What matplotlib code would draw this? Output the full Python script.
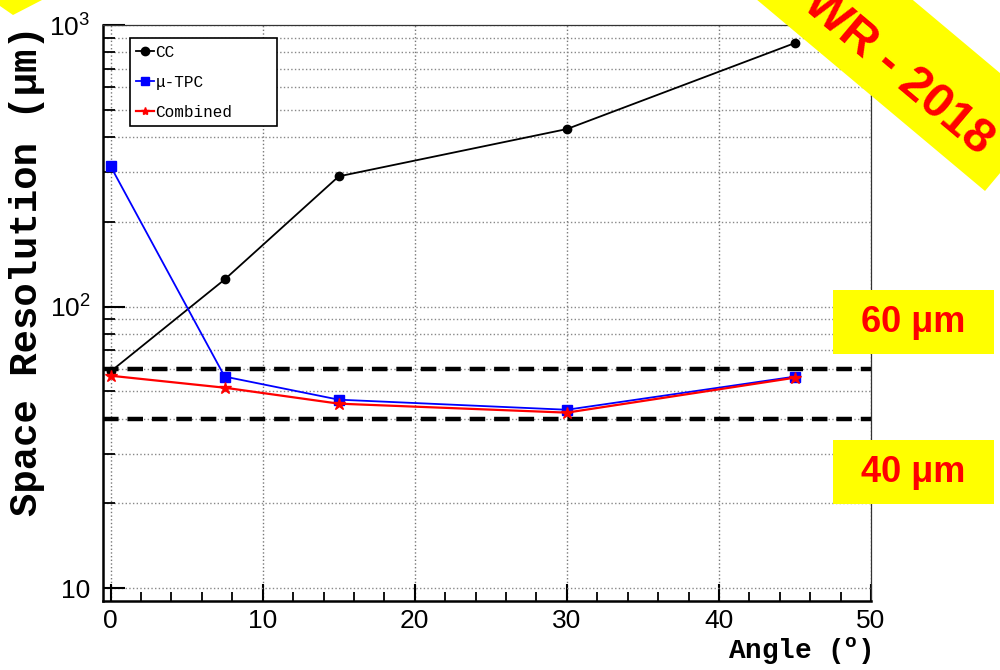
import numpy as np
import matplotlib
matplotlib.use("Agg")
import matplotlib.pyplot as plt
from matplotlib.patches import Polygon, Rectangle
from matplotlib.ticker import FixedLocator, NullFormatter

plt.rcParams["font.family"] = ["Liberation Sans", "DejaVu Sans"]
plt.rcParams["mathtext.default"] = "regular"

# resolution vs track angle
angles = [0, 7.5, 15, 30, 45]
res_cc = [58.8, 124.8, 290, 427, 863]
res_utpc = [315, 56.4, 46.7, 43.0, 56.4]
res_comb = [56.8, 51.5, 45.2, 42.0, 55.9]
ref_levels = [60, 40]
ref_labels = ["60 \u03bcm", "40 \u03bcm"]

W, H = 1000, 670
fig = plt.figure(figsize=(10, 6.7), dpi=100)
ax = fig.add_axes([103 / W, 1 - 601 / H, 768 / W, 576 / H])

ax.set_yscale("log")
ax.set_xlim(-0.5, 50)
ax.set_ylim(9, 1000)

ax.plot(angles, res_cc, color="black", lw=1.3, marker="o", ms=6, label="CC")
ax.plot(angles, res_utpc, color="blue", lw=1.3, marker="s", ms=7,
        label="\u03bc-TPC")
ax.plot(angles, res_comb, color="red", lw=1.6, marker="*", ms=9,
        label="Combined")

for lvl in ref_levels:
    ax.axhline(lvl, color="black", lw=3.2, ls=(0, (3.5, 2)), zorder=1)

# ticks and grid
ax.xaxis.set_major_locator(FixedLocator([0, 10, 20, 30, 40, 50]))
ax.xaxis.set_minor_locator(FixedLocator(np.arange(0, 50, 2)))
ax.yaxis.set_major_locator(FixedLocator([10, 100, 1000]))
minors = [m * d for d in (10, 100) for m in range(2, 10)]
ax.yaxis.set_minor_locator(FixedLocator(minors))
ax.yaxis.set_minor_formatter(NullFormatter())
ax.set_yticklabels(["10", "10$^{2}$", "10$^{3}$"])
ax.set_xticklabels(["0", "10", "20", "30", "40", "50"])

ax.tick_params(axis="both", which="both", direction="in", top=False,
               right=False, labelsize=19, color="black")
ax.tick_params(axis="y", which="major", length=16, width=1.5, pad=9)
ax.tick_params(axis="y", which="minor", length=8.5, width=1.3)
ax.tick_params(axis="x", which="major", length=12, width=1.5, pad=6)
ax.tick_params(axis="x", which="minor", length=6.5, width=1.3)

ax.grid(True, which="major", axis="x", color="#777777", ls=":", lw=1)
ax.grid(True, which="both", axis="y", color="#888888", ls=":", lw=1)
ax.set_axisbelow(True)

for side in ("left", "bottom"):
    ax.spines[side].set_linewidth(1.8)
for side in ("top", "right"):
    ax.spines[side].set_linewidth(0.9)
    ax.spines[side].set_color("#333333")

mono = ["Liberation Mono", "DejaVu Sans Mono"]
# axis titles, ROOT style: flush with the top / right end of the frame
fig.text(27 / W, 1 - 25 / H, "Space Resolution (\u03bcm)", family=mono,
         weight="bold", fontsize=28, rotation=90, rotation_mode="anchor",
         ha="right", va="center")
ax.set_xlabel("Angle ($^{o}$)", family=mono, weight="bold", fontsize=20,
              ha="right", va="top")
ax.xaxis.set_label_coords(1.0, -0.059)

leg = ax.legend(loc="upper left", bbox_to_anchor=(0.035, 0.877, 0.191, 0.1),
                mode="expand", borderaxespad=0,
                prop={"family": mono, "size": 11.5}, handlelength=1.1,
                handletextpad=0.1, borderpad=0.4, labelspacing=0.95,
                fancybox=False, edgecolor="black", framealpha=1)
leg.get_frame().set_linewidth(1.2)
for h in leg.legend_handles:
    h.set_markersize(6)


def px(pts):
    return [(x / W, 1 - y / H) for x, y in pts]


# yellow value boxes on the right
for lbl, ytop in zip(ref_labels, (290, 440)):
    fig.patches.append(Rectangle((833 / W, 1 - (ytop + 64) / H), 161 / W,
                                 64 / H, transform=fig.transFigure,
                                 facecolor="yellow", edgecolor="none"))
    fig.text(913 / W, 1 - (ytop + 33) / H, lbl, color="red", weight="bold",
             fontsize=26, ha="center", va="center")

# diagonal banner in the corner
n = np.array([0.6423, -0.7666])
p0 = np.array([725.0, -27.0])
p1 = np.array([985.0, 191.0])
band = [p0, p1, p1 + 100 * n, p0 + 100 * n]
fig.patches.append(Polygon(px(band), closed=True, transform=fig.transFigure,
                           facecolor="yellow", edgecolor="none"))
fig.text(898 / W, 1 - 72 / H, "WR - 2018", color="red", weight="bold",
         fontsize=35, rotation=-40, rotation_mode="anchor",
         ha="center", va="center")
fig.patches.append(Polygon(px([(0, 0), (42, 0), (13, 15), (0, 6)]),
                           closed=True, transform=fig.transFigure,
                           facecolor="yellow", edgecolor="none"))

fig.savefig("out.png", dpi=100)
